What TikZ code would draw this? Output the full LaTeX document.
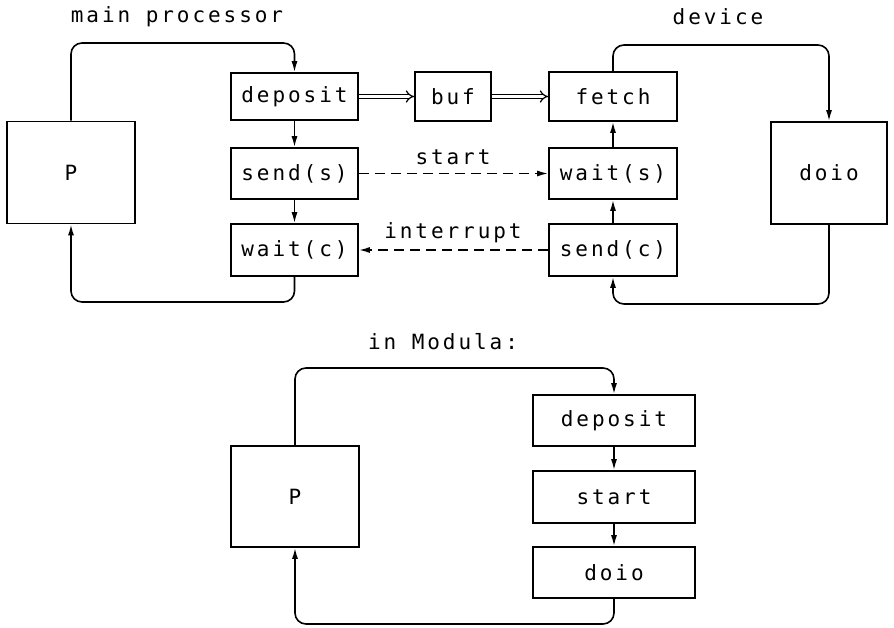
\documentclass[tikz,border=0pt]{standalone}
\usepackage{fontspec}
\usetikzlibrary{arrows.meta}
\newfontfamily\plotfont{DejaVu Sans Mono}[LetterSpace=14]
\begin{document}
\begin{tikzpicture}[x=1pt,y=-1pt,
  every node/.style={font=\plotfont\fontsize{21}{25}\selectfont},
  box/.style={draw,line width=1.7pt,inner sep=0pt},
  lbl/.style={inner sep=0pt},
  conn/.style={line width=1.6pt},
  arr/.style={conn,-{Latex[length=11pt,width=6pt]}},
  loop/.style={arr,rounded corners=11pt},
  dsh/.style={arr,dash pattern=on 10pt off 6pt},
  dbl/.style={line width=1.2pt,double,double distance=3pt,-{Implies[length=9pt]}}]
\useasboundingbox (0,0) rectangle (894,627);
% top, main processor side
\node[lbl] (mp) at (177,17) {main processor};
\node[lbl] (dev) at (718,17) {device};
\node[box,minimum width=128pt,minimum height=102pt] (P1) at (71,172.5) {P};
\node[box,minimum width=127pt,minimum height=47pt] (dep) at (294.5,96.5) {deposit};
\node[box,minimum width=127pt,minimum height=51pt] (sends) at (294.5,173.5) {send(s)};
\node[box,minimum width=127pt,minimum height=52pt] (waitc) at (294.5,250) {wait(c)};
\node[box,minimum width=76pt,minimum height=49pt] (buf) at (453,96.5) {buf};
\node[box,minimum width=128pt,minimum height=49pt] (fetch) at (613,96.5) {fetch};
\node[box,minimum width=128pt,minimum height=51pt] (waits) at (613,173.5) {wait(s)};
\node[box,minimum width=128pt,minimum height=52pt] (sendc) at (613,250) {send(c)};
\node[box,minimum width=116pt,minimum height=102pt] (doio1) at (829,173) {doio};
\node[lbl] (lstart) at (453,157) {start};
\node[lbl] (lint) at (453,233) {interrupt};
\coordinate (t1) at (180,43);
\coordinate (b1) at (180,302);
\coordinate (t2) at (720,45);
\coordinate (b2) at (720,304);
\draw[loop] (P1.north) |- (t1) -| (dep.north);
\draw[loop] (waitc.south) |- (b1) -| (P1.south);
\draw[arr] (dep) -- (sends);
\draw[arr] (sends) -- (waitc);
\draw[dbl] (dep) -- (buf);
\draw[dbl] (buf) -- (fetch);
\draw[dsh] (sends) -- (waits);
\draw[dsh] (sendc) -- (waitc);
\draw[arr] (sendc) -- (waits);
\draw[arr] (waits) -- (fetch);
\draw[loop] (fetch.north) |- (t2) -| (doio1.north);
\draw[loop] (doio1.south) |- (b2) -| (sendc.south);
% bottom, Modula
\node[lbl] (mod) at (443,342) {in Modula:};
\node[box,minimum width=128pt,minimum height=101pt] (P2) at (295,496.5) {P};
\node[box,minimum width=162pt,minimum height=51pt] (dep2) at (614,420.5) {deposit};
\node[box,minimum width=162pt,minimum height=52pt] (start2) at (614,497) {start};
\node[box,minimum width=162pt,minimum height=51pt] (doio2) at (614,572.5) {doio};
\coordinate (t3) at (450,368);
\coordinate (b3) at (450,624);
\draw[loop] (P2.north) |- (t3) -| (dep2.north);
\draw[arr] (dep2) -- (start2);
\draw[arr] (start2) -- (doio2);
\draw[loop] (doio2.south) |- (b3) -| (P2.south);
\end{tikzpicture}
\end{document}
